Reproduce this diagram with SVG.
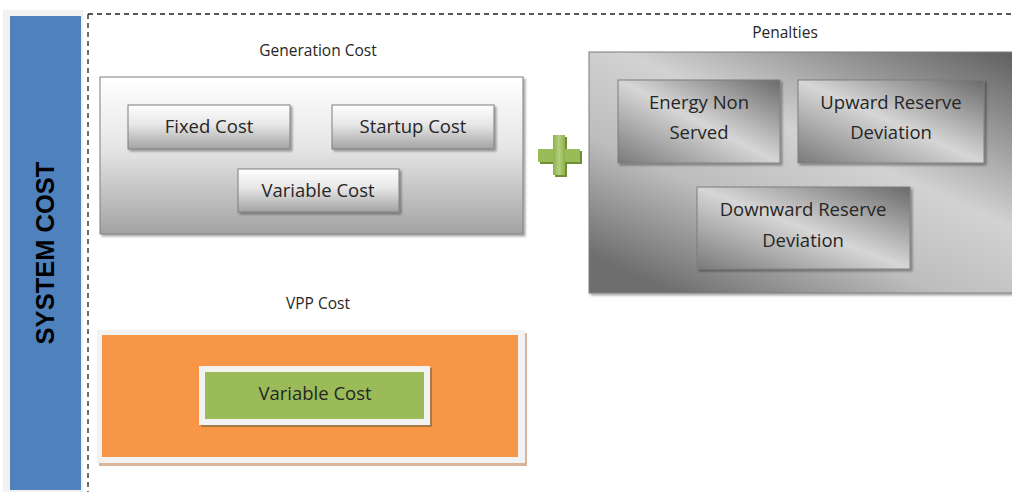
<svg xmlns="http://www.w3.org/2000/svg" width="1012" height="492" viewBox="0 0 1012 492">
<defs>
<linearGradient id="gV" x1="0" y1="0" x2="0" y2="1">
<stop offset="0" stop-color="#ffffff"/><stop offset="0.45" stop-color="#e6e6e6"/><stop offset="1" stop-color="#a3a3a3"/>
</linearGradient>
<linearGradient id="gD" x1="1" y1="0" x2="0" y2="1">
<stop offset="0" stop-color="#6a6a6a"/><stop offset="0.5" stop-color="#d6d6d6"/><stop offset="1" stop-color="#7a7a7a"/>
</linearGradient>
<linearGradient id="gP" x1="1" y1="0" x2="0.2" y2="1">
<stop offset="0" stop-color="#5e5e5e"/><stop offset="0.45" stop-color="#d2d2d2"/><stop offset="0.7" stop-color="#bdbdbd"/><stop offset="1" stop-color="#6e6e6e"/>
</linearGradient>
<linearGradient id="gPlus" x1="0" y1="0" x2="1" y2="0">
<stop offset="0" stop-color="#8cb04a"/><stop offset="0.5" stop-color="#b5d07e"/><stop offset="1" stop-color="#8cb04a"/>
</linearGradient>
<filter id="sh" x="-10%" y="-10%" width="120%" height="130%">
<feDropShadow dx="2" dy="2" stdDeviation="1.2" flood-color="#000" flood-opacity="0.35"/>
</filter>
</defs>
<style>
.t{font-family:"Open Sans","DejaVu Sans",sans-serif;fill:#262626;text-anchor:middle}
.ti{font-size:15.5px}
.nd{font-size:18.5px}
.bx{stroke:#7f7f7f;stroke-width:1}
</style>

<g id="system-cost">
<rect x="3" y="10" width="80" height="482" fill="#f2f2f2"/>
<rect x="10" y="16" width="71" height="474" fill="#4f81bd"/>
<text transform="translate(54,253) rotate(-90)" text-anchor="middle" font-family="Liberation Sans, Arial, sans-serif" font-weight="bold" font-size="25.5" fill="#000">SYSTEM COST</text>
</g>

<g id="connectors">
<path d="M88 14 V492 M88 14 H1012" fill="none" stroke="#222" stroke-width="1.3" stroke-dasharray="5,4"/>
</g>

<g id="generation-cost">
<text class="t ti" x="318" y="56">Generation Cost</text>
<rect x="100" y="77" width="423" height="157" fill="url(#gV)" class="bx" filter="url(#sh)"/>
<g id="fixed-cost"><rect x="128" y="105" width="162" height="44" fill="url(#gV)" class="bx" filter="url(#sh)"/><text class="t nd" x="209" y="133">Fixed Cost</text></g>
<g id="startup-cost"><rect x="332" y="105" width="162" height="44" fill="url(#gV)" class="bx" filter="url(#sh)"/><text class="t nd" x="413" y="133">Startup Cost</text></g>
<g id="variable-cost-gen"><rect x="238" y="169" width="161" height="43" fill="url(#gV)" class="bx" filter="url(#sh)"/><text class="t nd" x="318" y="197">Variable Cost</text></g>
</g>

<g id="plus">
<rect x="538" y="149" width="42" height="13" fill="#6f8f35" transform="translate(2,2)"/>
<rect x="553" y="135" width="12" height="40" fill="#6f8f35" transform="translate(2,2)"/>
<rect x="538" y="149" width="42" height="13" fill="#9bbb59"/>
<rect x="553" y="135" width="12" height="40" fill="url(#gPlus)"/>
</g>

<g id="penalties">
<text class="t ti" x="785" y="38">Penalties</text>
<rect x="589" y="52" width="428" height="241" fill="url(#gP)" class="bx" filter="url(#sh)"/>
<g id="energy-non-served"><rect x="618" y="80" width="162" height="83" fill="url(#gD)" class="bx" filter="url(#sh)"/><text class="t nd" x="699" y="109">Energy Non</text><text class="t nd" x="699" y="139">Served</text></g>
<g id="upward-reserve"><rect x="798" y="80" width="186" height="83" fill="url(#gD)" class="bx" filter="url(#sh)"/><text class="t nd" x="891" y="109">Upward Reserve</text><text class="t nd" x="891" y="139">Deviation</text></g>
<g id="downward-reserve"><rect x="697" y="187" width="213" height="82" fill="url(#gD)" class="bx" filter="url(#sh)"/><text class="t nd" x="803" y="216">Downward Reserve</text><text class="t nd" x="803" y="247">Deviation</text></g>
</g>

<g id="vpp-cost">
<text class="t ti" x="318" y="309">VPP Cost</text>
<rect x="99" y="333" width="428" height="133" fill="#d9b59c"/>
<rect x="97" y="330" width="428" height="133" fill="#f2f2f2"/>
<rect x="102" y="335" width="416" height="122" fill="#f79646"/>
<g id="variable-cost-vpp">
<rect x="201" y="368" width="231" height="59" fill="#a87c4a"/>
<rect x="199" y="366" width="231" height="59" fill="#f2f2f2"/>
<rect x="205" y="372" width="219" height="47" fill="#9bbb59"/>
<text class="t nd" x="315" y="400">Variable Cost</text>
</g>
</g>
</svg>
